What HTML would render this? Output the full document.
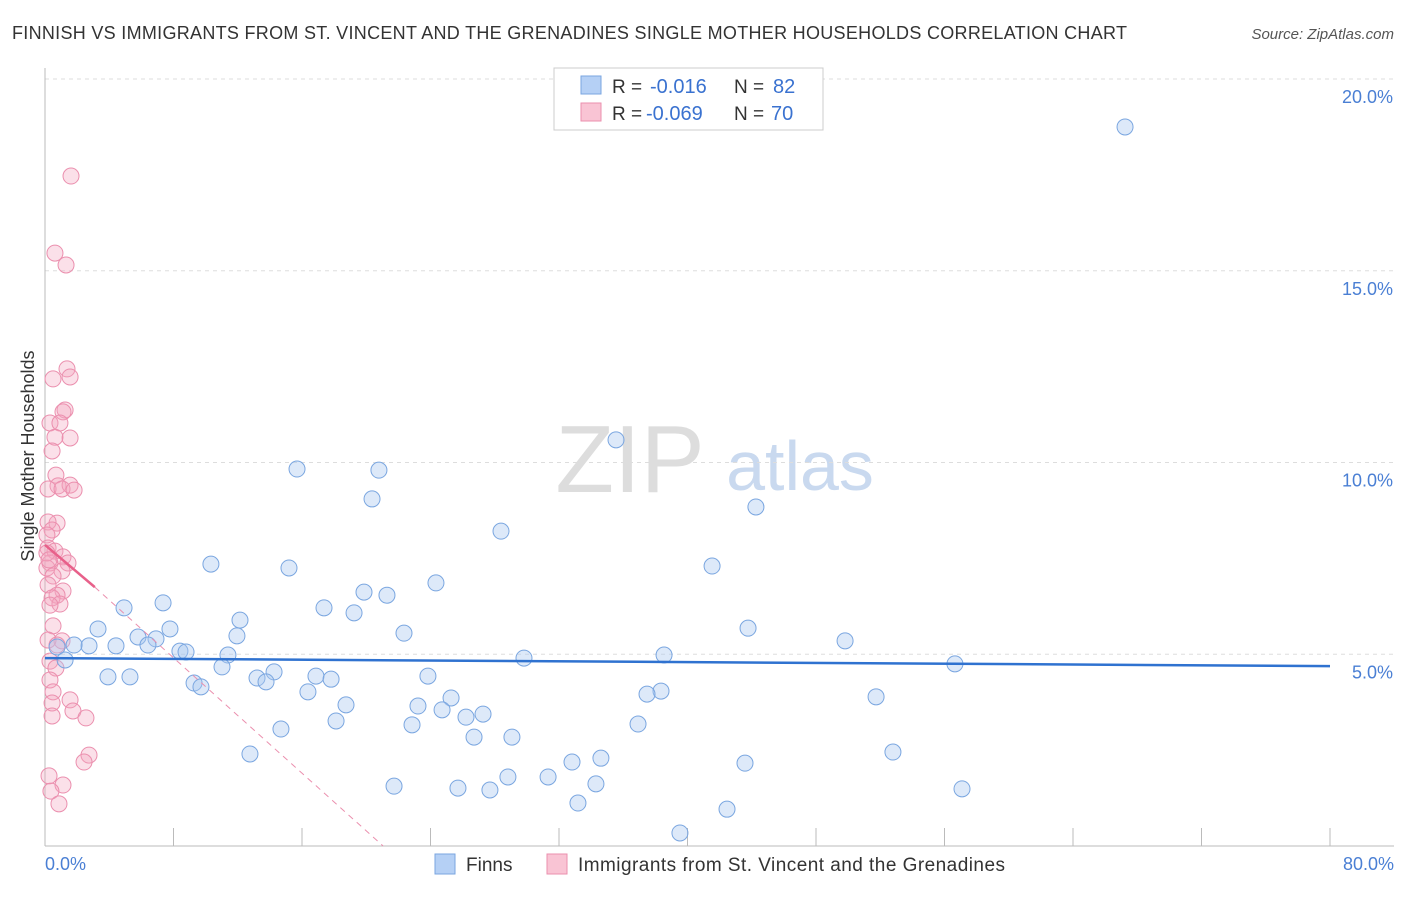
<!DOCTYPE html>
<html><head><meta charset="utf-8"><style>
body{margin:0;background:#fff;font-family:"Liberation Sans",sans-serif}
svg text{font-family:"Liberation Sans",sans-serif}
</style></head><body>
<svg width="1406" height="892" xmlns="http://www.w3.org/2000/svg">
<text x="12" y="39" font-size="18" fill="#333" textLength="1115">FINNISH VS IMMIGRANTS FROM ST. VINCENT AND THE GRENADINES SINGLE MOTHER HOUSEHOLDS CORRELATION CHART</text>
<text x="1394" y="39" font-size="15" fill="#555" font-style="italic" text-anchor="end">Source: ZipAtlas.com</text>
<text x="630" y="492" font-size="96" fill="#ddd" font-family="Liberation Serif" text-anchor="middle">ZIP</text>
<text x="800" y="490" font-size="70" fill="#c9d9ef" text-anchor="middle">atlas</text>
<g id="grid"></g>
<g id="axes"></g>
<g id="pink"></g>
<g id="blue"></g>
<g id="trend"></g>
<text transform="translate(34,456) rotate(-90)" font-size="18" fill="#333" text-anchor="middle">Single Mother Households</text>
<text x="45" y="870" font-size="18" fill="#4a7fd4">0.0%</text>
<text x="1394" y="870" font-size="18" fill="#4a7fd4" text-anchor="end">80.0%</text>
<g>
<rect x="554" y="68" width="269" height="62" fill="#fff" stroke="#ccc"/>
<rect x="581" y="76" width="20" height="18" fill="#b5d0f5" stroke="#7aa6e0"/>
<rect x="581" y="103" width="20" height="18" fill="#f9c4d4" stroke="#eb8fae"/>
<text x="612" y="93" font-size="19" fill="#333">R =</text>
<text x="650" y="93" font-size="20" fill="#3a72d0">-0.016</text>
<text x="734" y="93" font-size="19" fill="#333">N =</text>
<text x="773" y="93" font-size="20" fill="#3a72d0">82</text>
<text x="612" y="120" font-size="19" fill="#333">R =</text>
<text x="646" y="120" font-size="20" fill="#3a72d0">-0.069</text>
<text x="734" y="120" font-size="19" fill="#333">N =</text>
<text x="771" y="120" font-size="20" fill="#3a72d0">70</text>
</g>
<g>
<rect x="435" y="854" width="20" height="20" fill="#b5d0f5" stroke="#7aa6e0"/>
<text x="466" y="871" font-size="19" fill="#333">Finns</text>
<rect x="547" y="854" width="20" height="20" fill="#f9c4d4" stroke="#eb8fae"/>
<text x="578" y="871" font-size="19" fill="#333" textLength="427">Immigrants from St. Vincent and the Grenadines</text>
</g>
</svg>
<script>
const yTicks=[5,10,15,20];
const yTickLabels=["5.0%","10.0%","15.0%","20.0%"];
const xTicks=[0,8,16,24,32,40,48,56,64,72,80];
const bluePx=[[1125,127],[616,440],[297,469],[379,470],[372,499],[756,507],[501,531],[211,564],[289,568],[712,566],[436,583],[364,592],[387,595],[163,603],[124,608],[324,608],[354,613],[240,620],[748,628],[98,629],[170,629],[404,633],[237,636],[138,637],[156,639],[845,641],[116,646],[148,645],[57,647],[89,646],[74,645],[180,651],[186,652],[228,655],[524,658],[664,655],[65,660],[222,667],[955,664],[274,672],[316,676],[331,679],[257,678],[108,677],[130,677],[266,682],[428,676],[194,683],[201,687],[308,692],[661,691],[647,694],[876,697],[451,698],[346,705],[418,706],[442,710],[466,717],[483,714],[336,721],[412,725],[638,724],[281,729],[474,737],[512,737],[250,754],[893,752],[601,758],[572,762],[745,763],[508,777],[548,777],[596,784],[394,786],[458,788],[490,790],[962,789],[578,803],[727,809],[680,833]];
const pinkPx=[[71,176],[55,253],[66,265],[67,369],[70,377],[53,379],[65,410],[63,412],[50,423],[60,423],[70,438],[55,437],[52,451],[56,475],[58,486],[70,485],[48,489],[62,489],[74,490],[57,523],[48,522],[52,530],[47,535],[48,548],[55,551],[63,557],[68,563],[50,563],[62,571],[47,568],[53,576],[48,585],[63,591],[57,595],[52,598],[60,604],[50,605],[53,626],[62,641],[48,640],[57,645],[50,661],[56,668],[50,680],[53,692],[70,700],[52,703],[73,711],[86,718],[52,716],[89,755],[84,762],[49,776],[63,785],[51,791],[59,804],[47,553],[49,560]];
const toX=p=>+((p-45)/1285*80).toFixed(2), toY=p=>+((846-p)/38.35).toFixed(2);
const finnsX=bluePx.map(d=>toX(d[0])), finnsY=bluePx.map(d=>toY(d[1]));
const immX=pinkPx.map(d=>toX(d[0])), immY=pinkPx.map(d=>toY(d[1]));
const X=v=>45+v/80*1285, Y=v=>846-v*38.35;
const NS="http://www.w3.org/2000/svg";
function mk(t,a,p){const e=document.createElementNS(NS,t);for(const k in a)e.setAttribute(k,a[k]);document.getElementById(p).appendChild(e);return e;}
yTicks.forEach((t,i)=>{
 const l=mk('line',{x1:45,x2:1394,y1:Y(t),y2:Y(t),stroke:'#ddd','stroke-dasharray':'4,4'},'grid');
 
 
 const tx=mk('text',{x:1393,y:Y(t)+24,'font-size':18,fill:'#4a7fd4','text-anchor':'end'},'grid');
 tx.textContent=yTickLabels[i];
 
 
});
mk('line',{x1:45,x2:45,y1:68,y2:846,stroke:'#bbb'},'axes');
mk('line',{x1:45,x2:1394,y1:846,y2:846,stroke:'#bbb'},'axes');
xTicks.forEach(t=>{const l=mk('line',{x1:X(t),x2:X(t),y1:828,y2:846,stroke:'#bbb'},'axes');
 
 });
immX.forEach((v,i)=>{const c=mk('circle',{cx:X(v),cy:Y(immY[i]),r:8,fill:'rgba(244,166,192,0.35)',stroke:'#eb8fae','stroke-width':1},'pink');
 
 });
finnsX.forEach((v,i)=>{const c=mk('circle',{cx:X(v),cy:Y(finnsY[i]),r:8,fill:'rgba(169,200,240,0.4)',stroke:'#7aa6e0','stroke-width':1},'blue');
 
 });
const bt=mk('line',{x1:X(0),y1:Y(4.9),x2:X(80),y2:Y(4.69),stroke:'#2f72d0','stroke-width':2.5},'trend');


const pd=mk('line',{x1:X(3.1),y1:Y(6.75),x2:X(21.05),y2:Y(0),stroke:'#eb8fae','stroke-width':1,'stroke-dasharray':'6,5'},'trend');


const ps=mk('line',{x1:X(0),y1:Y(7.85),x2:X(3.1),y2:Y(6.75),stroke:'#e8608a','stroke-width':2.5},'trend');


</script>
</body></html>
